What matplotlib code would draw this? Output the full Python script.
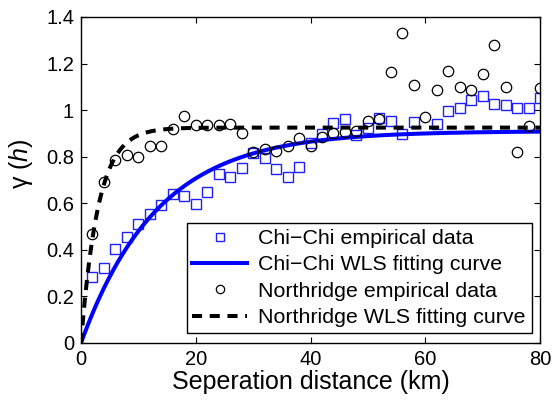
import numpy as np
import matplotlib
matplotlib.use("Agg")
import matplotlib.pyplot as plt

plt.rcParams['font.family'] = ['Liberation Sans', 'DejaVu Sans']
plt.rcParams['mathtext.fontset'] = 'custom'
plt.rcParams['mathtext.it'] = 'Liberation Sans:italic'
plt.rcParams['mathtext.rm'] = 'Liberation Sans'

# Chi-Chi empirical data (squares)
chichi_h = [2, 4, 6, 8, 10, 12, 14, 16, 18, 20, 22, 24, 26, 28, 30, 32, 34, 36, 38,
            40, 42, 44, 46, 48, 50, 52, 54, 56, 58, 62, 64, 66, 68, 70, 72, 74, 76, 78, 80]
chichi_g = [0.285, 0.323, 0.402, 0.456, 0.511, 0.554, 0.591, 0.640, 0.631, 0.597,
            0.647, 0.726, 0.714, 0.753, 0.815, 0.796, 0.747, 0.711, 0.756,
            0.860, 0.896, 0.946, 0.962, 0.895, 0.925, 0.966, 0.955, 0.897, 0.947,
            0.939, 0.997, 1.010, 1.042, 1.060, 1.025, 1.023, 1.008, 1.010, 1.050]

# Northridge empirical data (circles)
north_h = [2, 4, 6, 8, 10, 12, 14, 16, 18, 20, 22, 24, 26, 28, 30, 32, 34, 36, 38,
           40, 42, 44, 46, 48, 50, 52, 54, 56, 58, 60, 62, 64, 66, 68, 70, 72, 74, 76, 78, 80]
north_g = [0.468, 0.691, 0.786, 0.807, 0.800, 0.847, 0.847, 0.920, 0.976, 0.936,
           0.936, 0.936, 0.939, 0.900, 0.819, 0.833, 0.824, 0.846, 0.882,
           0.847, 0.886, 0.903, 0.907, 0.910, 0.955, 0.962, 1.162, 1.331, 1.106,
           0.969, 1.085, 1.169, 1.100, 1.088, 1.156, 1.281, 1.099, 0.821, 0.932, 1.094]

# WLS fitted exponential model parameters: gamma(h) = sill * (1 - exp(-3h / range))
chichi_sill, chichi_range = 0.91, 40.0
north_sill, north_range = 0.925, 9.0

xticks = [0, 20, 40, 60, 80]
yticks = [0, 0.2, 0.4, 0.6, 0.8, 1.0, 1.2, 1.4]
ytick_labels = ['0', '0.2', '0.4', '0.6', '0.8', '1', '1.2', '1.4']

h = np.linspace(0, 80, 500)
chichi_fit = chichi_sill * (1 - np.exp(-3 * h / chichi_range))
north_fit = north_sill * (1 - np.exp(-3 * h / north_range))

fig = plt.figure(figsize=(5.52, 4.03), dpi=100)
ax = fig.add_axes([81 / 552, 60 / 403, 459 / 552, 326 / 403])

ax.plot(chichi_h, chichi_g, linestyle='none', marker='s', markersize=6.8,
        markerfacecolor='none', markeredgecolor='#2020ff', markeredgewidth=1.0,
        label='Chi\u2212Chi empirical data')
ax.plot(h, chichi_fit, color='#0000ff', linewidth=2.9,
        label='Chi\u2212Chi WLS fitting curve')
ax.plot(north_h, north_g, linestyle='none', marker='o', markersize=7.5,
        markerfacecolor='none', markeredgecolor='black', markeredgewidth=0.9,
        label='Northridge empirical data')
ax.plot(h, north_fit, color='black', linewidth=2.9, linestyle=(0, (2.5, 1.9)),
        label='Northridge WLS fitting curve')

ax.set_xlim(0, 80)
ax.set_ylim(0, 1.4)
ax.set_xticks(xticks)
ax.set_xticklabels([str(v) for v in xticks])
ax.set_yticks(yticks)
ax.set_yticklabels(ytick_labels)
ax.tick_params(direction='in', length=4, width=0.8, labelsize=14.5,
               top=True, right=True, pad=5)
for s in ax.spines.values():
    s.set_linewidth(1.0)

ax.set_xlabel('Seperation distance (km)', fontsize=18, labelpad=1)
ax.set_ylabel(r'γ ($\mathit{h}$)', fontsize=18)
ax.yaxis.set_label_coords(-0.10, 0.55)

leg = ax.legend(loc='lower left', bbox_to_anchor=(0.230, 0.030, 0.752, 0.337),
                mode='expand', fontsize=15.4, frameon=True, fancybox=False,
                edgecolor='black', framealpha=1, handlelength=2.57,
                handletextpad=0.48, labelspacing=0.35, borderpad=0.27,
                borderaxespad=0, markerscale=0.8)
leg.get_frame().set_linewidth(1.0)

fig.savefig('out.png', dpi=100)
